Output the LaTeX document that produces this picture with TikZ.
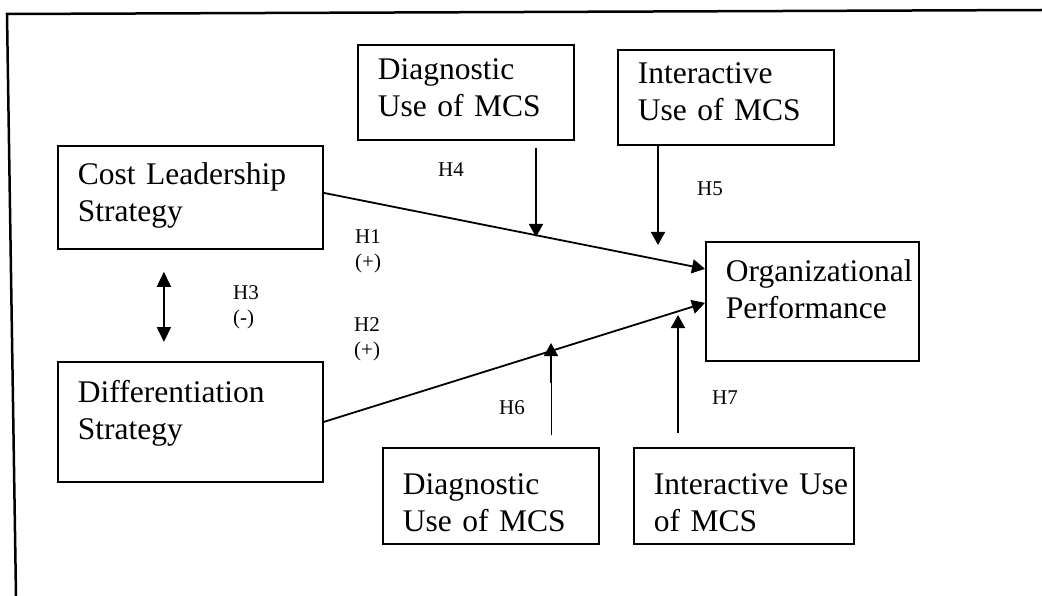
\documentclass[tikz,border=0pt]{standalone}
\usepackage{fontspec}
\setmainfont{Liberation Serif}
\usetikzlibrary{arrows.meta}
\hyphenpenalty=10000

\tikzset{
	box/.style={draw, line width=1.8pt, anchor=north west, inner sep=0pt, align=left,
		font=\fontsize{31.5}{37}\selectfont, execute at begin node={\leftskip=20pt}},
	hyp/.style={anchor=north west, inner sep=0pt, align=left, font=\fontsize{21}{25}\selectfont},
	arr/.style={line width=1.8pt, -{Triangle[length=13pt,width=14pt]}},
}

\begin{document}
\begin{tikzpicture}[x=1pt,y=-1pt]

	\useasboundingbox (0,0) rectangle (1042,596);
	\draw[line width=2.5pt] (16,596) -- (7,14) -- (1042,10);

	% constructs
	\node[box, text width=265pt, text height=39pt, text depth=64pt] (cost) at (57,145) {Cost Leadership\\Strategy};
	\node[box, text width=265pt, text height=41pt, text depth=79pt] (diff) at (57,361) {Differentiation\\Strategy};
	\node[box, text width=213pt, text height=40pt, text depth=79pt] (org) at (705,241) {Organizational\\Performance};
	\node[box, text width=216pt, text height=35pt, text depth=60pt] (diagtop) at (357,44) {Diagnostic\\Use of MCS};
	\node[box, text width=216pt, text height=34pt, text depth=61pt] (intertop) at (617,49) {Interactive\\Use of MCS};
	\node[box, text width=216pt, text height=47pt, text depth=49pt] (diagbot) at (382,447) {Diagnostic\\Use of MCS};
	\node[box, text width=220pt, text height=47pt, text depth=49pt] (interbot) at (633,447) {Interactive~Use\\of MCS};

	% hypotheses
	\node[hyp] (h4) at (438,162) {H4};
	\node[hyp] (h1) at (355,229) {H1\\(+)};
	\node[hyp] (h3) at (233,285) {H3\\(-)};
	\node[hyp] (h2) at (354,317) {H2\\(+)};
	\node[hyp] (h5) at (697,182) {H5};
	\node[hyp] (h6) at (499,400) {H6};
	\node[hyp] (h7) at (712,391) {H7};

	% arrow tips on the main paths
	\coordinate (t4) at (536,237);
	\coordinate (t5) at (658,245);
	\coordinate (k6) at (551,383);
	\coordinate (t6) at (551,343);
	\coordinate (t7) at (678,315);

	\draw[arr] ([yshift=4.5pt]cost.east) -- ([yshift=32.5pt]org.west);
	\draw[arr] (diff.east) -- ([yshift=-1.5pt]org.west);
	\draw[line width=1.8pt, {Triangle[length=15pt,width=14pt]}-{Triangle[length=15pt,width=14pt]}]
		([xshift=-26.5pt,yshift=-22pt]cost.south) -- ([xshift=-26.5pt,yshift=19pt]diff.north);

	\draw[arr] ([yshift=-7pt]t4 |- diagtop.south) -- (t4);
	\draw[arr] (t5 |- intertop.south) -- (t5);
	\draw[line width=0.8pt] ([yshift=12pt]k6 |- diagbot.north) -- (k6);
	\draw[arr] (k6) -- (t6);
	\draw[arr] ([yshift=14pt]t7 |- interbot.north) -- (t7);

\end{tikzpicture}
\end{document}
